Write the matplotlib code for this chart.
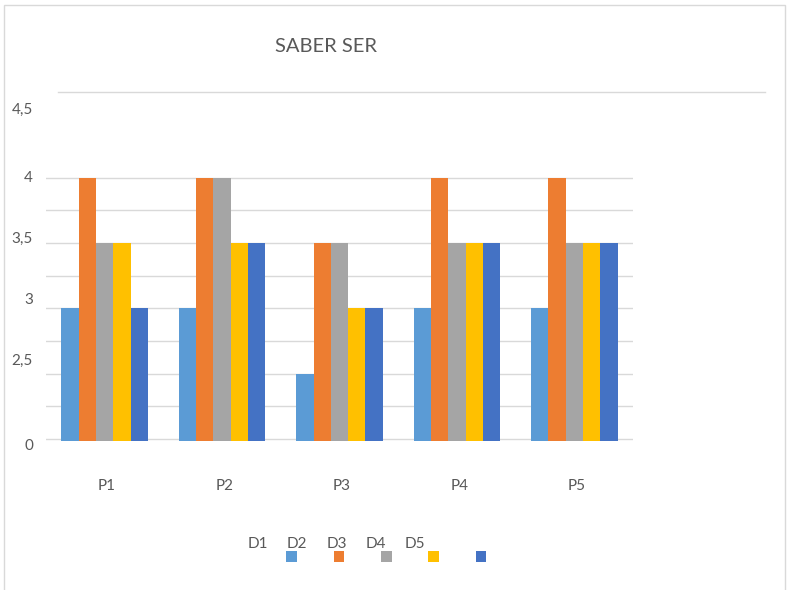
import matplotlib
matplotlib.use("Agg")
import matplotlib.pyplot as plt
import numpy as np
from matplotlib.patches import Rectangle
from matplotlib.lines import Line2D

categories = ["P1", "P2", "P3", "P4", "P5"]
series_names = ["D1", "D2", "D3", "D4", "D5"]
D1 = [3.0, 3.0, 2.5, 3.0, 3.0]
D2 = [4.0, 4.0, 3.5, 4.0, 4.0]
D3 = [3.5, 4.0, 3.5, 3.5, 3.5]
D4 = [3.5, 3.5, 3.0, 3.5, 3.5]
D5 = [3.0, 3.5, 3.0, 3.5, 3.5]
series = [D1, D2, D3, D4, D5]
colors = ["#5B9BD5", "#ED7D31", "#A5A5A5", "#FFC000", "#4472C4"]

# y tick labels as shown in the picture, with their vertical positions
ytick_labels = ["4,5", "4", "3,5", "3", "2,5", "0"]
ytick_pos = [4.52, 4.0, 3.53, 3.065, 2.6, 1.947]
grid_vals = np.arange(2.0, 4.01, 0.25)

plt.rcParams['font.family'] = ['Lato', 'DejaVu Sans']
txt = "#595959"
grid_c = "#D9D9D9"

W, H = 787, 590
fig = plt.figure(figsize=(W / 100, H / 100), dpi=100)

# chart border (bottom edge lies outside the picture)
fig.add_artist(Rectangle((4 / W, -0.05), 781 / W, 1.05 - 5 / H, transform=fig.transFigure,
                         fill=False, edgecolor="#D9D9D9", lw=1, clip_on=False))
# top line
fig.add_artist(Line2D([58 / W, 765 / W], [1 - 91.7 / H] * 2, transform=fig.transFigure,
                      color=grid_c, lw=1))

left, right = 46, 633
bottom = 441
px_per_unit = 131.5
ymax = 4.6
top_px = bottom - (ymax - 2.0) * px_per_unit
ax = fig.add_axes([left / W, 1 - bottom / H, (right - left) / W, (bottom - top_px) / H])

x = np.arange(len(categories))
w = 0.1475
for i, (vals, c) in enumerate(zip(series, colors)):
    ax.bar(x + (i - 2) * w, vals, width=w, color=c, zorder=3, label=series_names[i])

ax.set_xlim(-0.5, len(categories) - 0.5)
ax.set_ylim(1.985, ymax)
ax.set_yticks(grid_vals)
ax.set_yticklabels([])
ax.tick_params(axis='y', length=0)
ax.yaxis.grid(True, color=grid_c, lw=1, zorder=0)
ax.set_axisbelow(True)
for s in ax.spines.values():
    s.set_visible(False)
ax.set_xticks(x + 0.02)
ax.set_xticklabels(categories, color=txt, fontsize=11)
ax.tick_params(axis='x', length=0, pad=27)

for lab, p in zip(ytick_labels, ytick_pos):
    ax.text((33 - left) / (right - left), p, lab, transform=ax.get_yaxis_transform(),
            ha='right', va='center', color=txt, fontsize=11, clip_on=False)

fig.text(326 / W, 1 - 46 / H, "SABER SER", ha='center', va='center', color=txt, fontsize=14.5)

# legend: labels and squares (offset as in the picture)
for i, name in enumerate(series_names):
    fig.text((258 + i * 39.2) / W, 1 - 544 / H, name, ha='center', va='center',
             color=txt, fontsize=11)
sq = 10.5
for i, c in enumerate(colors):
    cx = 291.7 + i * 47.3
    fig.add_artist(Rectangle(((cx - sq / 2) / W, 1 - (556.7 + sq / 2) / H), sq / W, sq / H,
                             transform=fig.transFigure, color=c, lw=0))

fig.savefig("out.png", dpi=100)
